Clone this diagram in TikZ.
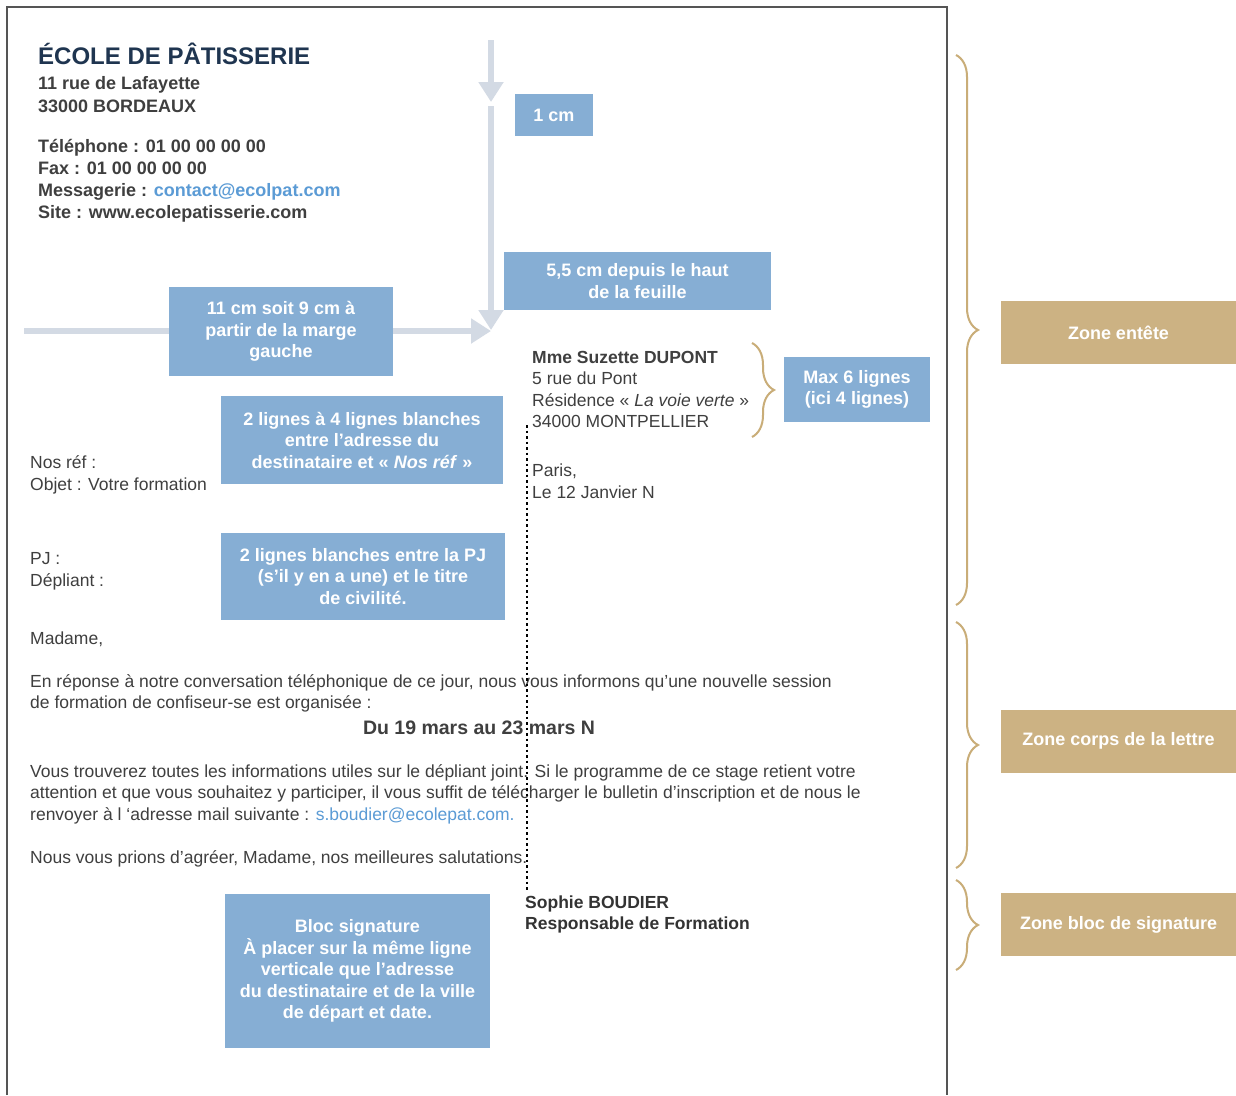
\documentclass[tikz,border=0pt]{standalone}
\usepackage{fontspec}
\setmainfont{Liberation Sans}
\usetikzlibrary{arrows.meta,positioning,decorations.pathreplacing}
\definecolor{lettxt}{HTML}{3F3F3F}
\definecolor{letnavy}{HTML}{1F3550}
\definecolor{letblue}{HTML}{86AED4}
\definecolor{letgold}{HTML}{CCB283}
\definecolor{letbrace}{HTML}{C9AD78}
\definecolor{letarrow}{HTML}{D3DAE4}
\definecolor{letlink}{HTML}{5B9BD5}
\definecolor{letframe}{HTML}{555555}

\begin{document}
\begin{tikzpicture}[x=1pt,y=-1pt,
 b/.style={fill=letblue,text=white,font=\fontsize{18}{21.5}\selectfont\bfseries,align=center,inner sep=0pt},
 zone/.style={fill=letgold,text=white,font=\fontsize{18}{21}\selectfont\bfseries,minimum width=235pt,minimum height=63pt,inner sep=0pt},
 a/.style={letarrow,line width=6pt,-{Triangle[length=20pt,width=24pt]}},
 br/.style={letbrace,line width=2pt,decorate,decoration={brace,amplitude=22pt}},
 txt/.style={anchor=base west,inner sep=0pt,text=lettxt,font=\fontsize{17.5}{21}\selectfont},
 txtb/.style={txt,font=\fontsize{17.5}{21}\selectfont\bfseries}
]
\fill[white] (0,0) rectangle (1236,1095);
\useasboundingbox (0,0) rectangle (1236,1095);
% page
\draw[letframe,line width=1.5pt] (7,1095) -- (7,7) -- (947,7) -- (947,1095);

% margins
\coordinate (vtop) at (491,40);
\coordinate (vcm) at (491,102);
\coordinate (vcm2) at (491,106);
\coordinate (vbot) at (491,330);
\coordinate (hleft) at (24,331);
\coordinate (hright) at (491,331);
\draw[a] (vtop) -- (vcm);
\draw[a] (vcm2) -- (vbot);
\draw[a] (hleft) -- (hright);

% header
\node[txtb,text=letnavy,font=\fontsize{24}{28}\selectfont\bfseries] (ecole) at (38,64) {ÉCOLE DE PÂTISSERIE};
\node[txtb,font=\fontsize{18}{21}\selectfont\bfseries] (rue) at (38,89) {11 rue de Lafayette};
\node[txtb,font=\fontsize{18}{21}\selectfont\bfseries] (ville) at (38,112) {33000 BORDEAUX};
\node[txtb,font=\fontsize{18}{21}\selectfont\bfseries] (tel) at (38,152) {Téléphone : 01 00 00 00 00};
\node[txtb,font=\fontsize{18}{21}\selectfont\bfseries] (fax) at (38,174) {Fax : 01 00 00 00 00};
\node[txtb,font=\fontsize{18}{21}\selectfont\bfseries] (mail) at (38,196) {Messagerie : \textcolor{letlink}{contact@ecolpat.com}};
\node[txtb,font=\fontsize{18}{21}\selectfont\bfseries] (site) at (38,218) {Site : www.ecolepatisserie.com};

% recipient and date
\node[txtb] (dest) at (532,363) {Mme Suzette DUPONT};
\node[txt] (destrue) at (532,384) {5 rue du Pont};
\node[txt] (destres) at (532,406) {Résidence «~\textit{La voie verte}~»};
\node[txt] (destville) at (532,427) {34000 MONTPELLIER};
\node[txt] (lieu) at (532,476) {Paris,};
\node[txt] (date) at (532,498) {Le 12 Janvier N};

% references
\node[txt] (ref) at (30,468) {Nos réf :};
\node[txt] (objet) at (30,490) {Objet : Votre formation};
\node[txt] (pj) at (30,564) {PJ :};
\node[txt] (depliant) at (30,586) {Dépliant :};

% body
\node[txt] (civ) at (30,644) {Madame,};
\node[txt] (p1a) at (30,687) {En réponse à notre conversation téléphonique de ce jour, nous vous informons qu'une nouvelle session};
\node[txt] (p1b) at (30,708) {de formation de confiseur-se est organisée :};
\node[txt,anchor=base,font=\fontsize{19.5}{23}\selectfont\bfseries] (dates) at (479,734) {Du 19 mars au 23 mars N};
\node[txt] (p2a) at (30,777) {Vous trouverez toutes les informations utiles sur le dépliant joint. Si le programme de ce stage retient votre};
\node[txt] (p2b) at (30,798) {attention et que vous souhaitez y participer, il vous suffit de télécharger le bulletin d’inscription et de nous le};
\node[txt] (p2c) at (30,820) {renvoyer à l ‘adresse mail suivante : \textcolor{letlink}{s.boudier@ecolepat.com.}};
\node[txt] (p3) at (30,863) {Nous vous prions d'agréer, Madame, nos meilleures salutations.};

% signature
\node[txtb,text=black!80] (sign) at (525,908) {Sophie BOUDIER};
\node[txtb,text=black!80] (fonction) at (525,929) {Responsable de Formation};

% alignment guide
\coordinate (dtop) at (527,425);
\coordinate (dbot) at (527,890);
\draw[line width=2.5pt,dash pattern=on 2.5pt off 3pt] (dtop) -- (dbot);

% instructions
\node[b,minimum width=78pt,minimum height=42pt] (cm1) at (554,115) {1 cm};
\node[b,minimum width=267pt,minimum height=58pt] (cm55) at (637.5,281) {5,5 cm depuis le haut\\de la feuille};
\node[b,minimum width=224pt,minimum height=89pt] (cm11) at (281,331.5) {11 cm soit 9 cm à\\partir de la marge\\gauche};
\node[b,minimum width=282pt,minimum height=88pt] (blanc4) at (362,440) {2 lignes à 4 lignes blanches\\entre l'adresse du\\destinataire et «~\textit{Nos réf}~»};
\node[b,minimum width=284pt,minimum height=87pt] (blanc2) at (363,576.5) {2 lignes blanches entre la PJ\\(s'il y en a une) et le titre\\de civilité.};
\node[b,minimum width=146pt,minimum height=65pt] (max6) at (857,389.5) {Max 6 lignes\\(ici 4 lignes)};
\node[b,minimum width=265pt,minimum height=154pt] (bloc) at (357.5,971) {Bloc signature\\À placer sur la même ligne\\verticale que l'adresse\\du destinataire et de la ville\\de départ et date.};

% zones
\draw[br] (752,343) -- (752,437);
\draw[br] (956,55) -- (956,605);
\draw[br] (956,622) -- (956,868);
\draw[br] (956,880) -- (956,970);
\node[zone] (zentete) at (1118.5,332.5) {Zone entête};
\node[zone] (zcorps) at (1118.5,741) {Zone corps de la lettre};
\node[zone] (zsign) at (1118.5,924.5) {Zone bloc de signature};
\end{tikzpicture}
\end{document}
